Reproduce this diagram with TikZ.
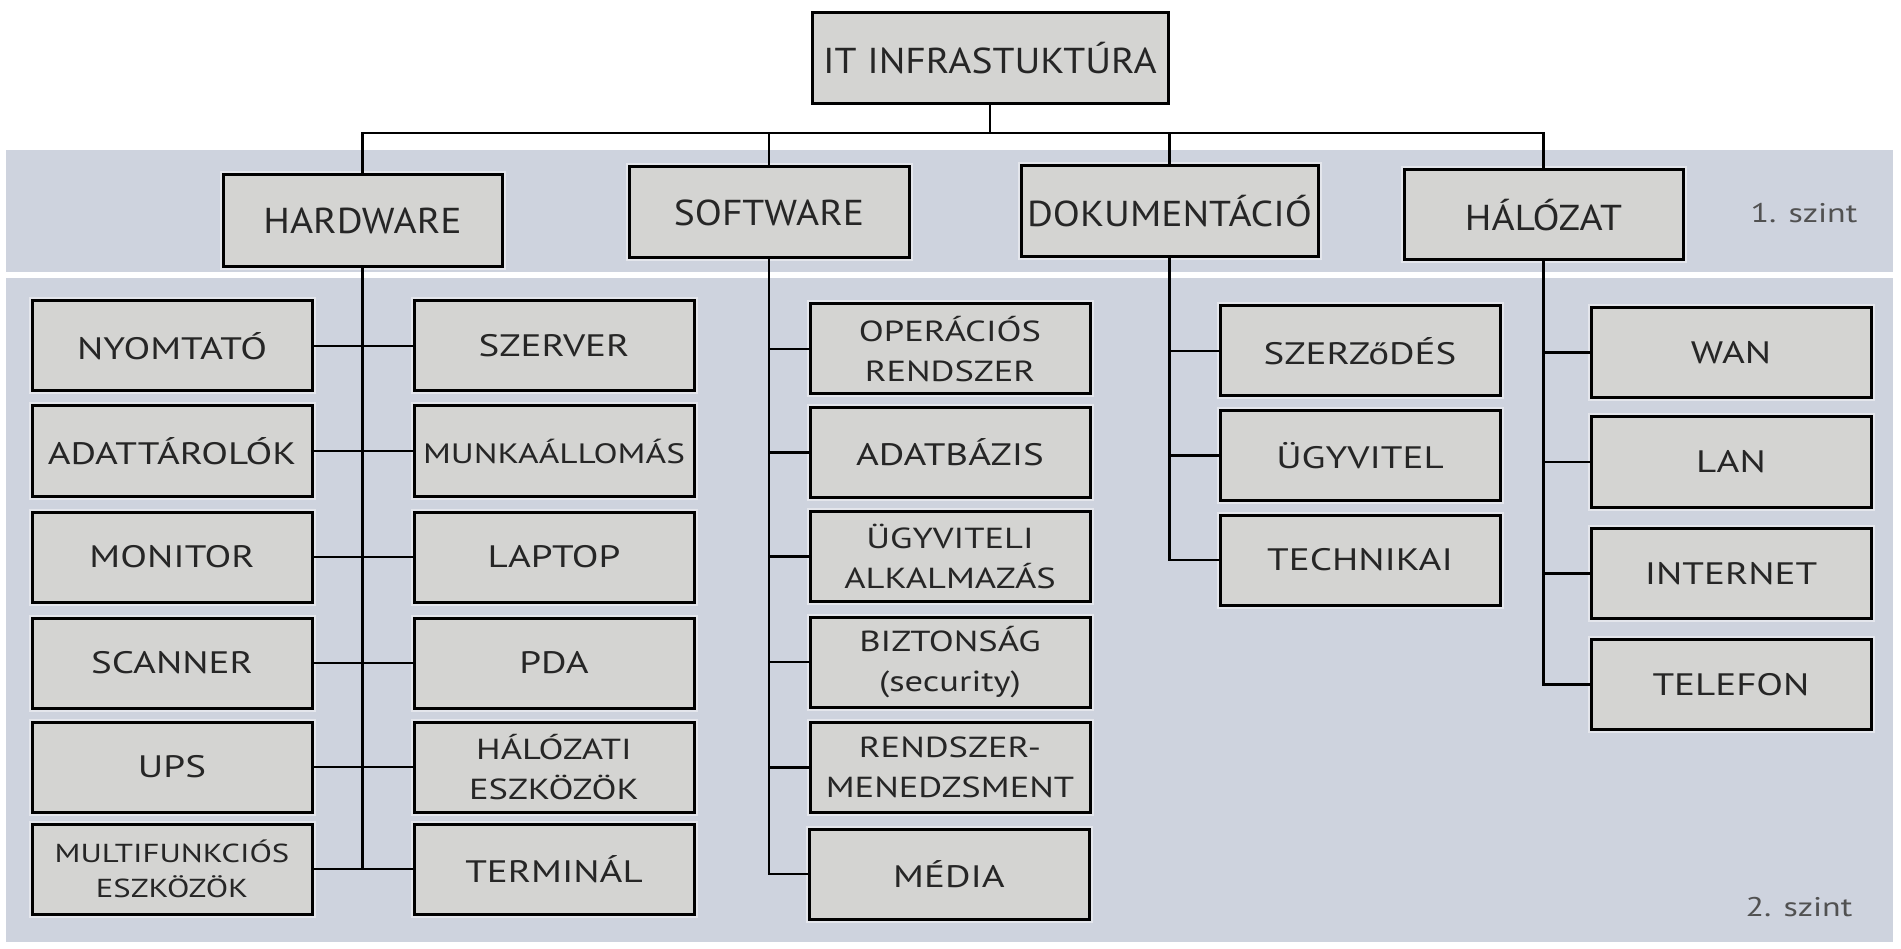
\documentclass[tikz,border=0pt]{standalone}
\usepackage{fontspec}
\setmainfont{PT Sans}
\newfontfamily\headfont[FakeStretch=1.1]{PT Sans}
\newfontfamily\itemfont[FakeStretch=1.26]{PT Sans}
\definecolor{bandcol}{RGB}{206,211,222}
\definecolor{boxfill}{RGB}{212,212,210}
\definecolor{inkcol}{RGB}{38,38,38}
\begin{document}
\begin{tikzpicture}[x=1pt,y=-1pt,
  box/.style={draw=black, line width=3pt, fill=boxfill, text=inkcol,
    minimum width=280pt, minimum height=90pt, inner sep=0pt, align=center,
    preaction={draw=white, line width=7pt, opacity=0.45}},
  topbox/.style={box, font=\headfont\fontsize{36}{40}\selectfont},
  leafbox/.style={box, font=\itemfont\fontsize{31}{40}\selectfont},
  twoline/.style={box, font=\itemfont\fontsize{29}{40}\selectfont},
  link/.style={line width=2.5pt, draw=black},
  levellabel/.style={text=inkcol!80, font=\itemfont\fontsize{27}{30}\selectfont}
]
\useasboundingbox (0,0) rectangle (1901,949);
% level bands
\fill[bandcol] (6,150) rectangle (1893,272);
\fill[bandcol] (6,278) rectangle (1893,942);

% root and level 1
\node[topbox, minimum width=356pt, minimum height=91pt] (it) at (990,58.5) {IT INFRASTUKTÚRA};
\node[topbox, minimum width=279pt, minimum height=92pt] (hw) at (362.5,221) {HARDWARE};
\node[topbox, minimum height=91pt] (sw) at (769,212.5) {SOFTWARE};
\node[topbox, minimum width=297pt, minimum height=91pt] (dok) at (1169.5,211.5) {DOKUMENTÁCIÓ};
\node[topbox, minimum width=279pt] (hal) at (1543.5,215) {HÁLÓZAT};

\node[levellabel] (l1) at (1804,213) {1. szint};
\node[levellabel] (l2) at (1799,907) {2. szint};

% hardware items
\node[leafbox] (hwL1) at (172,346) {NYOMTATÓ};
\node[leafbox] (hwL2) at (172,451) {ADATTÁROLÓK};
\node[leafbox] (hwL3) at (172,557) {MONITOR};
\node[leafbox] (hwL4) at (172,663) {SCANNER};
\node[leafbox] (hwL5) at (172,767) {UPS};
\node[box, font=\itemfont\fontsize{26}{35}\selectfont] (hwL6) at (172,869) {MULTIFUNKCIÓS\\ESZKÖZÖK};
\node[leafbox] (hwR1) at (554,346) {SZERVER};
\node[leafbox, font=\itemfont\fontsize{28}{30}\selectfont] (hwR2) at (554,451) {MUNKAÁLLOMÁS};
\node[leafbox] (hwR3) at (554,557) {LAPTOP};
\node[leafbox] (hwR4) at (554,663) {PDA};
\node[twoline] (hwR5) at (554,767) {HÁLÓZATI\\ESZKÖZÖK};
\node[leafbox] (hwR6) at (554,869) {TERMINÁL};

% software items
\node[twoline] (sw1) at (950,349) {OPERÁCIÓS\\RENDSZER};
\node[leafbox] (sw2) at (950,452.5) {ADATBÁZIS};
\node[twoline] (sw3) at (950,556.5) {ÜGYVITELI\\ALKALMAZÁS};
\node[twoline] (sw4) at (950,662) {BIZTONSÁG\\(security)};
\node[twoline] (sw5) at (950,767.5) {RENDSZER-\\MENEDZSMENT};
\node[leafbox] (sw6) at (949,874) {MÉDIA};

% documentation items
\node[leafbox] (dok1) at (1360,351) {SZERZőDÉS};
\node[leafbox] (dok2) at (1360,455.5) {ÜGYVITEL};
\node[leafbox] (dok3) at (1360,560) {TECHNIKAI};

% network items
\node[leafbox] (hal1) at (1731,352.5) {WAN};
\node[leafbox] (hal2) at (1731,462) {LAN};
\node[leafbox] (hal3) at (1731,573.5) {INTERNET};
\node[leafbox] (hal4) at (1731,684.5) {TELEFON};

% root to level 1
\coordinate (bus) at (990,133);
\draw[link] (it.south) -- (it.south |- bus);
\draw[link] (hw.north) |- (hal.north |- bus) -- (hal.north);
\draw[link] (sw.north) -- (sw.north |- bus);
\draw[link] (dok.north) -- (dok.north |- bus);

% hardware connectors
\draw[link] (hw.south) -- (hw.south |- hwL6.east);
\foreach \i in {1,...,6} \draw[link] (hwL\i.east) -- (hwR\i.west);

% software connectors
\draw[link] (sw.south) |- (sw6.west);
\foreach \i in {1,...,5} \draw[link] (sw.south |- sw\i.west) -- (sw\i.west);

% documentation connectors
\draw[link] (dok.south) |- (dok3.west);
\foreach \i in {1,2} \draw[link] (dok.south |- dok\i.west) -- (dok\i.west);

% network connectors
\draw[link] (hal.south) |- (hal4.west);
\foreach \i in {1,2,3} \draw[link] (hal.south |- hal\i.west) -- (hal\i.west);
\end{tikzpicture}
\end{document}
